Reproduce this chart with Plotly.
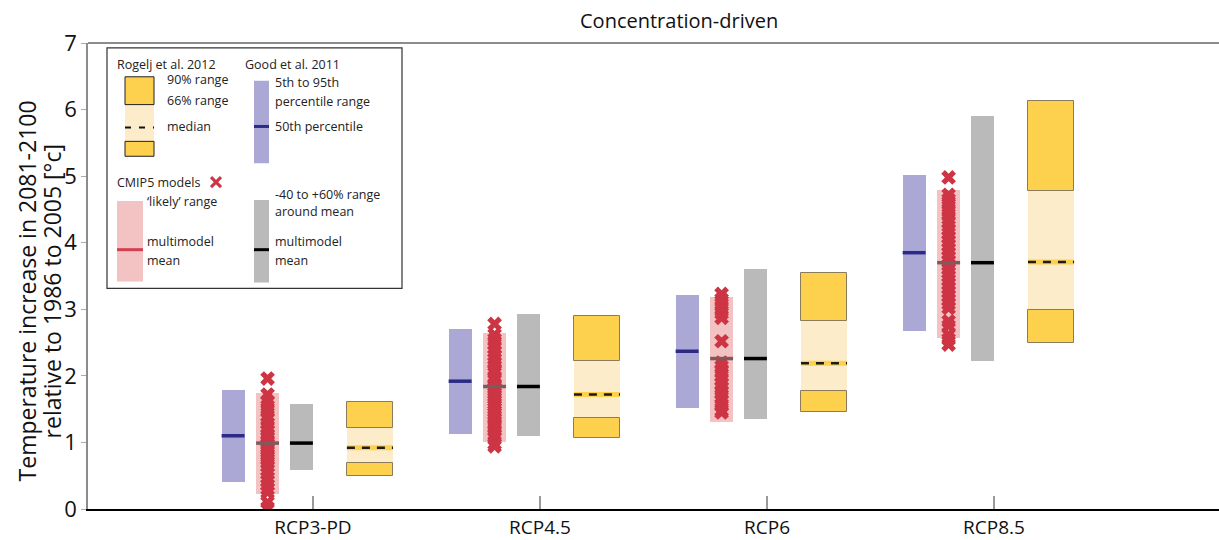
import plotly.graph_objects as go

# ---- data -------------------------------------------------------------
scenarios = ["RCP3-PD", "RCP4.5", "RCP6", "RCP8.5"]

# Good et al. 2011: 5th-95th percentile range and 50th percentile
good_p5 = [0.41, 1.12, 1.51, 2.68]
good_p50 = [1.10, 1.92, 2.37, 3.85]
good_p95 = [1.79, 2.71, 3.22, 5.01]

# CMIP5: 'likely' range and multimodel mean
cmip_lo = [0.23, 1.01, 1.31, 2.57]
cmip_hi = [1.74, 2.64, 3.19, 4.79]
cmip_mean = [0.99, 1.84, 2.26, 3.70]

# CMIP5: -40 to +60% range around the multimodel mean
around_lo = [0.59, 1.10, 1.35, 2.22]
around_hi = [1.58, 2.93, 3.60, 5.90]

# Rogelj et al. 2012: 90% / 66% ranges and median
rog_p5 = [0.50, 1.06, 1.45, 2.49]
rog_p17 = [0.69, 1.37, 1.78, 2.99]
rog_p50 = [0.92, 1.72, 2.19, 3.71]
rog_p83 = [1.22, 2.23, 2.83, 4.78]
rog_p95 = [1.60, 2.90, 3.55, 6.13]

# individual CMIP5 models
models_rcp3pd = [1.96, 1.72, 1.62, 1.55, 1.48, 1.40, 1.35, 1.28, 1.22, 1.18, 1.12,
                 1.08, 1.03, 1.00, 0.97, 0.93, 0.90, 0.86, 0.82, 0.78, 0.74, 0.70,
                 0.64, 0.58, 0.53, 0.47, 0.42, 0.36, 0.30, 0.25, 0.10, 0.02]
models_rcp45 = [2.78, 2.62, 2.55, 2.48, 2.42, 2.36, 2.30, 2.25, 2.20, 2.15, 2.10,
                2.07, 1.97, 1.93, 1.88, 1.85, 1.82, 1.78, 1.74, 1.70, 1.66, 1.62,
                1.58, 1.55, 1.51, 1.47, 1.43, 1.39, 1.35, 1.30, 1.26, 1.22, 1.17,
                1.12, 1.08, 0.98, 0.94]
models_rcp6 = [3.23, 3.15, 3.08, 3.01, 2.94, 2.87, 2.52, 2.20, 2.14, 2.07, 2.00,
               1.94, 1.88, 1.82, 1.75, 1.68, 1.62, 1.55, 1.48, 1.45]
models_rcp85 = [4.98, 4.72, 4.65, 4.58, 4.50, 4.43, 4.36, 4.30, 4.20, 4.14, 4.08,
                4.02, 3.96, 3.90, 3.84, 3.78, 3.72, 3.66, 3.60, 3.55, 3.50, 3.44,
                3.38, 3.32, 3.26, 3.20, 3.14, 3.08, 3.02, 2.82, 2.75, 2.62, 2.55,
                2.47]
models = [models_rcp3pd, models_rcp45, models_rcp6, models_rcp85]

# ---- styling ----------------------------------------------------------
FONT = "Open Sans"
C_PURPLE, C_NAVY = "#aca8d5", "#2b2a87"
C_PINK, C_RED, C_REDMEAN = "#f3c3c3", "#cd3444", "#7e5a5c"
C_GRAY = "#bababa"
C_YDARK, C_YLIGHT, C_YEDGE = "#fdd04e", "#fdecca", "#8a7b5c"

pos = [1, 2, 3, 4]
OFF_GOOD, OFF_CMIP, OFF_AROUND, OFF_ROG = -0.352, -0.200, -0.051, 0.251
W, W_ROG = 0.101, 0.203


def shifted(off):
    return [p + off for p in pos]


def segments(xs, w, ys):
    sx, sy = [], []
    for x, y in zip(xs, ys):
        sx += [x - w / 2, x + w / 2, None]
        sy += [y, y, None]
    return sx, sy


def span(lo, hi):
    return [h - l for l, h in zip(lo, hi)]


fig = go.Figure()


def add_bar(off, width, lo, hi, color, line=None):
    fig.add_trace(go.Bar(
        x=shifted(off), base=lo, y=span(lo, hi), width=width,
        marker=dict(color=color,
                    line=dict(width=1 if line else 0, color=line or color)),
        hoverinfo="skip", showlegend=False))


def add_seg(off, width, ys, color, lw, dash="solid"):
    sx, sy = segments(shifted(off), width, ys)
    fig.add_trace(go.Scatter(x=sx, y=sy, mode="lines",
                             line=dict(color=color, width=lw, dash=dash),
                             hoverinfo="skip", showlegend=False))


# Good et al. 2011
add_bar(OFF_GOOD, W, good_p5, good_p95, C_PURPLE)
add_seg(OFF_GOOD, W, good_p50, C_NAVY, 3.5)

# CMIP5 likely range, models and mean
add_bar(OFF_CMIP, W, cmip_lo, cmip_hi, C_PINK)
mx, my = [], []
for p, vals in zip(shifted(OFF_CMIP), models):
    mx += [p] * len(vals)
    my += vals
fig.add_trace(go.Scatter(x=mx, y=my, mode="markers",
                         marker=dict(symbol="x", size=13, color=C_RED,
                                     line=dict(width=0)),
                         hoverinfo="skip", showlegend=False))
add_seg(OFF_CMIP, W, cmip_mean, C_REDMEAN, 3.5)

# -40 to +60% range around the multimodel mean
add_bar(OFF_AROUND, W, around_lo, around_hi, C_GRAY)
add_seg(OFF_AROUND, W, cmip_mean, "black", 3.5)

# Rogelj et al. 2012
add_bar(OFF_ROG, W_ROG, rog_p17, rog_p83, C_YLIGHT)
add_bar(OFF_ROG, W_ROG, rog_p83, rog_p95, C_YDARK, C_YEDGE)
add_bar(OFF_ROG, W_ROG, rog_p5, rog_p17, C_YDARK, C_YEDGE)
add_seg(OFF_ROG, W_ROG, rog_p50, C_YDARK, 5)
add_seg(OFF_ROG, W_ROG, rog_p50, "#1a1a1a", 2.5, dash="8px,7px")

# ---- layout -----------------------------------------------------------
L, T, WIDTH, HEIGHT = 88, 43, 1219, 540
B = 28
PW, PH = WIDTH - L, HEIGHT - T - B


def px(x):
    return (x - L) / PW


def py(y):
    return (HEIGHT - B - y) / PH


shapes = [
    # top frame line
    dict(type="line", xref="paper", yref="paper", x0=0, x1=1, y0=1, y1=1,
         line=dict(color="#8c8c8c", width=2)),
]
annotations = []


def rect(x0, y0, x1, y1, fill, edge=None, lw=1):
    shapes.append(dict(type="rect", xref="paper", yref="paper",
                       x0=px(x0), x1=px(x1), y0=py(y1), y1=py(y0),
                       fillcolor=fill,
                       line=dict(color=edge or fill, width=lw if edge else 0)))


def hline(x0, x1, y, color, lw, dash="solid"):
    shapes.append(dict(type="line", xref="paper", yref="paper",
                       x0=px(x0), x1=px(x1), y0=py(y), y1=py(y),
                       line=dict(color=color, width=lw, dash=dash)))


def text(s, x, y, size=12.5):
    annotations.append(dict(text=s, xref="paper", yref="paper", x=px(x), y=py(y),
                            xanchor="left", yanchor="middle", showarrow=False,
                            font=dict(family=FONT, size=size, color="#222")))


# key box
rect(107, 48, 402, 290, "white", "#333333", 1.2)
# Rogelj key
rect(125, 105, 154, 142, C_YLIGHT)
rect(125, 77, 154, 105, C_YDARK, "#222", 1)
rect(125, 142, 154, 157, C_YDARK, "#222", 1)
hline(125, 154, 128, "#111", 2, dash="6px,8px")
# Good key
rect(254, 81, 269, 164, C_PURPLE)
hline(254, 269, 127, C_NAVY, 3)
# CMIP5 key
rect(117, 202, 143, 283, C_PINK)
hline(117, 143, 251, "#d0404f", 3)
shapes.append(dict(type="line", xref="paper", yref="paper",
                   x0=px(211), x1=px(221), y0=py(178), y1=py(188),
                   line=dict(color=C_RED, width=3)))
shapes.append(dict(type="line", xref="paper", yref="paper",
                   x0=px(211), x1=px(221), y0=py(188), y1=py(178),
                   line=dict(color=C_RED, width=3)))
rect(254, 201, 269, 284, C_GRAY)
hline(254, 269, 251, "black", 3)

text("Rogelj et al. 2012", 115, 65)
text("90% range", 165, 80)
text("66% range", 165, 101)
text("median", 165, 127)
text("Good et al. 2011", 243, 65)
text("5th to 95th", 273, 83)
text("percentile range", 273, 102)
text("50th percentile", 273, 127)
text("CMIP5 models", 115, 183)
text("\u2018likely\u2019 range", 145, 203)
text("multimodel", 145, 243)
text("mean", 145, 262)
text("-40 to +60% range", 273, 195)
text("around mean", 273, 213)
text("multimodel", 273, 243)
text("mean", 273, 262)

# title
annotations.append(dict(text="Concentration-driven", xref="paper", yref="paper",
                        x=px(679), y=py(20), xanchor="center", yanchor="middle",
                        showarrow=False, font=dict(family=FONT, size=20, color="#111")))
# y-axis title, two lines
for s, xc in [("Temperature increase in 2081-2100", 27),
              ("relative to 1986 to 2005 [°c]", 52)]:
    annotations.append(dict(text=s, xref="paper", yref="paper",
                            x=px(xc), y=py(293), xanchor="center", yanchor="middle",
                            textangle=-90, showarrow=False,
                            font=dict(family=FONT, size=23, color="#111")))

fig.update_layout(
    width=WIDTH, height=HEIGHT,
    margin=dict(l=L, r=0, t=T, b=B),
    paper_bgcolor="white", plot_bgcolor="white",
    barmode="overlay", bargap=0,
    font=dict(family=FONT, color="#111"),
    shapes=shapes, annotations=annotations,
    xaxis=dict(range=[0.009, 4.991], tickvals=pos, ticktext=scenarios,
               showgrid=False, zeroline=False,
               showline=True, linecolor="black", linewidth=2,
               ticks="inside", ticklen=13, tickwidth=1.5, tickcolor="#9a9a9a",
               tickfont=dict(family=FONT, size=19, color="#111")),
    yaxis=dict(range=[0, 7], dtick=1, showgrid=False, zeroline=False,
               showline=True, linecolor="#8c8c8c", linewidth=1.5,
               ticks="outside", ticklen=5, tickwidth=1, tickcolor="#aaaaaa",
               tickfont=dict(family=FONT, size=22, color="#111")),
)

fig.write_html("out.html")
